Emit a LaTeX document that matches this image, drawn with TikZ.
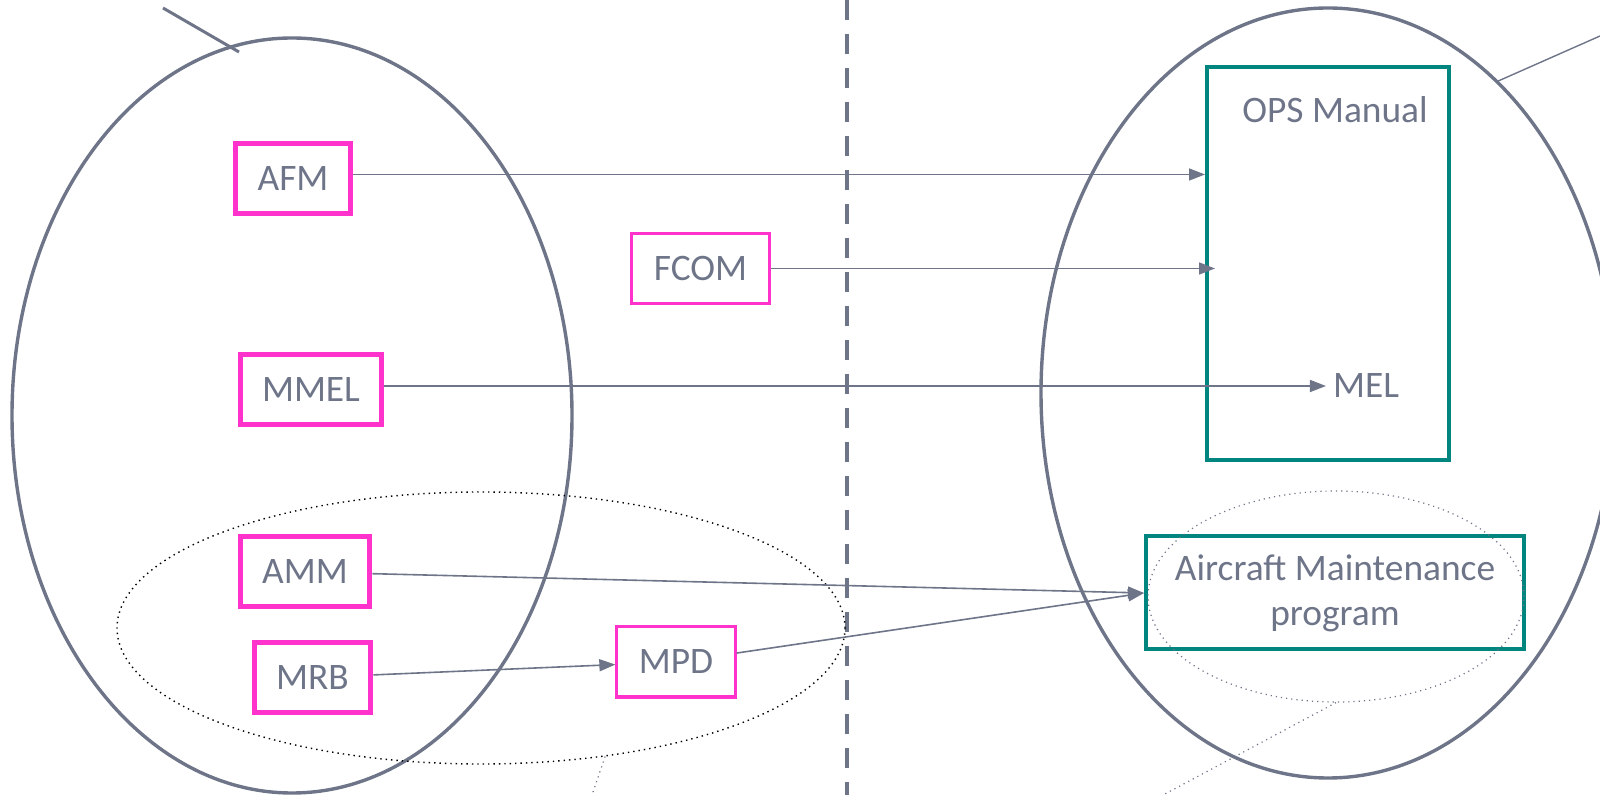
\documentclass[tikz,border=0pt]{standalone}
\usepackage{fontspec}
\setmainfont{Carlito}
\usetikzlibrary{shapes.geometric,arrows.meta}

\definecolor{slate}{HTML}{6E7589}
\definecolor{docpink}{HTML}{FF33CC}
\definecolor{opsteal}{HTML}{00857F}

\begin{document}
\begin{tikzpicture}[
	x=0.5pt, y=-0.5pt,
	font=\fontsize{18.7}{22.5}\selectfont, text=slate,
	doc/.style={
		draw=docpink, line width=2.5pt, rectangle,
		minimum height=35pt, inner xsep=11pt
	},
	thindoc/.style={doc, line width=1.5pt},
	opsbox/.style={
		draw=opsteal, line width=2pt, rectangle, align=center
	},
	side/.style={draw=slate, line width=1.7pt, ellipse},
	grp/.style={draw=black, dotted, line width=0.7pt, ellipse},
	lead/.style={draw=slate, dotted, line width=0.6pt},
	arr/.style={-{Triangle[length=8pt,width=6pt]}, slate, line width=0.8pt},
	]
	\useasboundingbox (0,0) rectangle (1600,795);
	
	% manufacturer side and operator side
	\node[side, minimum width=280pt, minimum height=377.5pt] (oem) at (292,415.5) {};
	\node[side, minimum width=287pt, minimum height=385pt] (opr) at (1328,393) {};
	\draw[slate, line width=1.75pt, dash pattern=on 10pt off 7pt] (847,0) -- (847,795);
	
	\coordinate (tlA) at (163,8);
	\coordinate (tlB) at (239,52);
	\draw[slate, line width=1.5pt] (tlA) -- (tlB);
	\coordinate (trA) at (1496,82);
	\coordinate (trB) at (1600,36);
	\draw[slate, line width=0.7pt] (trA) -- (trB);
	
	% documents
	\node[doc]     (afm)  at (293,178.5) {AFM};
	\node[thindoc] (fcom) at (700.5,268.5) {FCOM};
	\node[doc]     (mmel) at (311,390) {MMEL};
	\node[doc]     (amm)  at (305,572) {AMM};
	\node[doc]     (mrb)  at (312.5,677.5) {MRB};
	\node[thindoc] (mpd)  at (676,662) {MPD};
	
	\node[grp, minimum width=364pt, minimum height=136pt] (mgrp) at (481,628) {};
	\coordinate (mgrpEnd) at (592,795);
	\draw[lead] (mgrp.-46) -- (mgrpEnd);
	
	% operator documents
	\node[opsbox, minimum width=121pt, minimum height=196.5pt] (ops) at (1328,263.5) {};
	\node (opslbl) at (1335,110) {OPS Manual};
	\node (mel) at (1366,386) {MEL};
	\node[opsbox, minimum width=189pt, minimum height=56.5pt] (amp) at (1335,593) {Aircraft Maintenance\\program};
	
	\node[draw=slate, dotted, line width=0.6pt, ellipse, minimum width=188pt, minimum height=105.5pt] (agrp) at (1336,596.5) {};
	\coordinate (agrpEnd) at (1163,795);
	\draw[lead] (agrp.south) -- (agrpEnd);
	
	\draw[arr] ([yshift=2pt]afm.east) -- ([yshift=2pt]afm.east -| ops.west);
	\draw[arr] (fcom) -- ([xshift=5pt]fcom -| ops.west);
	\draw[arr] ([yshift=2pt]mmel.east) -- (mel);
	\draw[arr] (amm)  -- (amp.west);
	\draw[arr] (mrb)  -- (mpd);
	\draw[arr] (mpd)  -- (amp.west);
	
\end{tikzpicture}
\end{document}
